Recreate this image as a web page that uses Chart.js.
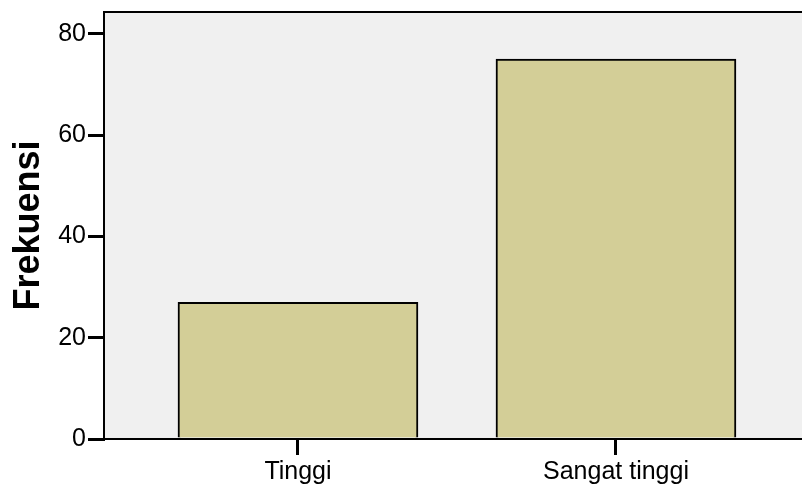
<!DOCTYPE html>
<html lang="id">
<head>
<meta charset="UTF-8">
<title>Frekuensi</title>
<script src="https://cdn.jsdelivr.net/npm/chart.js"></script>
<style>
  body { margin: 0; background: #fff; overflow: hidden; }
</style>
</head>
<body>
<canvas id="barChart" width="802" height="488"></canvas>
<script>
const categories = ['Tinggi', 'Sangat tinggi'];
const frekuensi = [27, 75];
const categoryPos = [0, 1];
const yTicks = [0, 20, 40, 60, 80];

// fill the plot area and draw the top frame line
const plotFrame = {
  id: 'plotFrame',
  beforeDraw(chart) {
    const { ctx, chartArea: a } = chart;
    ctx.save();
    ctx.fillStyle = '#f0f0f0';
    ctx.fillRect(a.left, a.top, a.right - a.left, a.bottom - a.top);
    ctx.strokeStyle = '#000';
    ctx.lineWidth = 2;
    ctx.beginPath();
    ctx.moveTo(a.left, a.top);
    ctx.lineTo(a.right, a.top);
    ctx.stroke();
    ctx.restore();
  }
};

const ctx = document.getElementById('barChart').getContext('2d');
new Chart(ctx, {
  type: 'bar',
  data: {
    datasets: [{
      data: categoryPos.map((x, i) => ({ x: x, y: frekuensi[i] })),
      backgroundColor: '#d3ce97',
      borderColor: '#000',
      borderWidth: 2,
      borderSkipped: 'bottom',
      barThickness: 240
    }]
  },
  options: {
    responsive: false,
    animation: false,
    layout: { padding: { top: 12, right: 0, left: 0, bottom: 0 } },
    plugins: {
      legend: { display: false },
      tooltip: { enabled: false }
    },
    scales: {
      x: {
        type: 'linear',
        min: -0.61,
        max: 1.585,
        offset: false,
        afterBuildTicks: (scale) => { scale.ticks = categoryPos.map(v => ({ value: v })); },
        afterFit: (scale) => { scale.height = 49; scale.paddingLeft = 0; scale.paddingRight = 0; },
        grid: { offset: false, drawOnChartArea: false, drawTicks: true, tickLength: 16, color: '#000', lineWidth: 3 },
        border: { color: '#000', width: 2 },
        ticks: {
          padding: 2,
          color: '#000',
          font: { family: 'Liberation Sans, Arial, sans-serif', size: 25 },
          callback: (v, i) => categories[i]
        }
      },
      y: {
        min: 0,
        max: 84.3,
        afterBuildTicks: (scale) => { scale.ticks = yTicks.map(v => ({ value: v })); },
        afterFit: (scale) => { scale.width = 104; scale.paddingTop = 0; scale.paddingBottom = 0; },
        grid: { drawOnChartArea: false, drawTicks: true, tickLength: 16, color: '#000', lineWidth: 3 },
        border: { color: '#000', width: 2 },
        title: {
          display: true,
          text: 'Frekuensi',
          color: '#000',
          padding: { top: 7, bottom: 0 },
          font: { family: 'Liberation Sans, Arial, sans-serif', size: 36, weight: 'bold' }
        },
        ticks: {
          padding: 2,
          color: '#000',
          font: { family: 'Liberation Sans, Arial, sans-serif', size: 25 }
        }
      }
    }
  },
  plugins: [plotFrame]
});
</script>
</body>
</html>
